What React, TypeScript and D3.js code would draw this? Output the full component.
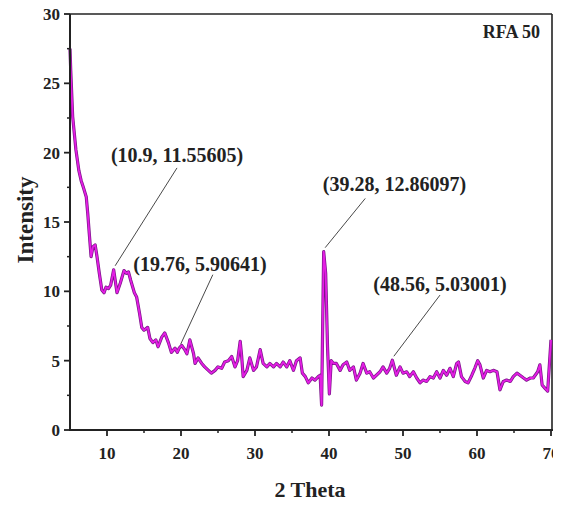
import React, { useEffect, useRef } from "react";
import * as d3 from "d3";

const twoTheta = [
  5.0, 5.05, 5.1, 5.36, 5.8, 6.2, 6.5, 6.8, 7.2, 7.4, 7.6, 7.85, 8.1, 8.4, 8.65, 8.96, 9.3, 9.6, 9.86, 10.2,
  10.5, 10.9, 11.35, 11.8, 12.3, 12.6, 12.9, 13.2, 13.7, 14.0, 14.4, 14.7, 15.0, 15.5, 15.8, 16.2, 16.6, 16.9,
  17.4, 17.8, 18.3, 18.7, 19.2, 19.5, 19.76, 20.1, 20.5, 20.8, 21.2, 21.7, 21.9, 22.3, 22.8, 23.2, 23.7, 24.1,
  24.6, 25.0, 25.5, 25.9, 26.4, 26.85, 27.3, 27.65, 28.0, 28.2, 28.4, 28.9, 29.3, 29.8, 30.2, 30.7, 31.1, 31.6,
  32.0, 32.5, 32.9, 33.4, 33.8, 34.3, 34.7, 35.2, 35.6, 36.1, 36.4, 36.8, 37.2, 37.7, 38.1, 38.55, 38.8, 39.0,
  39.28, 39.55, 39.8, 40.05, 40.3, 40.6, 41.0, 41.5, 41.9, 42.4, 42.8, 43.3, 43.7, 44.2, 44.6, 45.1, 45.5, 46.0,
  46.4, 46.9, 47.3, 47.8, 48.2, 48.56, 49.1, 49.6, 50.0, 50.5, 50.9, 51.4, 51.85, 52.3, 52.7, 53.2, 53.65, 54.1,
  54.55, 55.0, 55.45, 55.9, 56.35, 56.8, 57.25, 57.5, 57.9, 58.4, 58.8, 59.3, 59.7, 60.1, 60.4, 60.85, 61.3,
  61.75, 62.2, 62.7, 63.1, 63.55, 64.0, 64.5, 64.9, 65.4, 65.8, 66.3, 66.7, 67.2, 67.6, 68.2, 68.5, 68.8, 69.2,
  69.55, 70.0,
];
const intensity = [
  27.5, 26.7, 25.9, 22.6, 20.2, 18.7, 18.0, 17.5, 16.8, 15.6, 14.2, 12.5, 13.2, 13.35, 12.5, 11.3, 10.1, 9.9, 10.3, 10.2,
  10.45, 11.556, 9.9, 10.6, 11.5, 11.3, 11.4, 10.8, 9.9, 9.6, 8.4, 7.4, 7.2, 7.4, 6.6, 6.3, 6.5, 6.0,
  6.7, 7.0, 6.3, 5.6, 5.9, 5.6, 5.906, 6.1, 5.8, 5.5, 6.5, 5.5, 4.8, 5.2, 4.8, 4.55, 4.3, 4.1,
  4.3, 4.55, 4.45, 4.9, 5.0, 5.3, 4.55, 5.0, 6.4, 5.3, 3.85, 4.3, 5.2, 4.3, 4.55, 5.8, 4.8, 4.55,
  4.8, 4.55, 4.8, 4.55, 4.9, 4.55, 5.0, 4.3, 5.0, 5.2, 4.1, 3.85, 3.4, 3.75, 3.6, 3.85, 3.95, 1.8,
  12.861, 11.3, 6.0, 2.6, 5.0, 4.8, 4.8, 4.3, 4.7, 4.9, 4.3, 4.55, 3.6, 4.1, 4.8, 4.1, 4.2, 3.75,
  3.95, 4.2, 4.55, 4.1, 4.45, 5.03, 3.95, 4.55, 4.1, 4.2, 3.85, 4.2, 3.75, 3.4, 3.6, 3.5, 3.85, 3.75,
  4.2, 3.75, 4.3, 3.95, 4.45, 3.85, 4.8, 4.9, 3.85, 3.5, 3.4, 3.95, 4.45, 5.0, 4.7, 3.75, 4.3,
  4.2, 4.3, 4.2, 2.9, 3.5, 3.6, 3.5, 3.85, 4.1, 3.95, 3.75, 3.6, 3.75, 3.75, 4.2, 4.7, 3.25, 3.0,
  2.8, 6.5,
];

const xTicks = [10, 20, 30, 40, 50, 60, 70];
const xMinorTicks = [15, 25, 35, 45, 55, 65];
const yTicks = [0, 5, 10, 15, 20, 25, 30];
const yMinorTicks = [2.5, 7.5, 12.5, 17.5, 22.5, 27.5];

const annotationLabels = ["(10.9, 11.55605)", "(19.76, 5.90641)", "(39.28, 12.86097)", "(48.56, 5.03001)"];
const annotationX = [10.9, 19.76, 39.28, 48.56];
const annotationY = [11.55605, 5.90641, 12.86097, 5.03001];
const annotationTextX = [19.46, 22.57, 48.85, 55.0];
const annotationTextY = [19.3, 11.5, 17.2, 10.0];
const annotationLineEndX = [19.46, 24.3, 44.9, 55.0];
const annotationLineEndY = [18.9, 11.2, 16.7, 9.73];

const W = 568;
const H = 505;
const left = 70;
const right = 551;
const top = 14;
const bottom = 430;

export default function App() {
  const ref = useRef<SVGSVGElement | null>(null);

  useEffect(() => {
    const svg = d3.select(ref.current);
    svg.selectAll("*").remove();

    const x = d3.scaleLinear().domain([5, 70]).range([left, right]);
    const y = d3.scaleLinear().domain([0, 30]).range([bottom, top]);
    const font = "'Liberation Serif', 'Times New Roman', serif";

    svg.append("defs").append("clipPath").attr("id", "imgclip")
      .append("rect").attr("x", 0).attr("y", 0).attr("width", 553).attr("height", H);

    const g = svg.append("g").attr("clip-path", "url(#imgclip)");

    // frame
    g.append("line").attr("x1", left).attr("x2", right + 1).attr("y1", top).attr("y2", top)
      .attr("stroke", "#222").attr("stroke-width", 1.6);
    g.append("line").attr("x1", right + 1).attr("x2", right + 1).attr("y1", top).attr("y2", bottom)
      .attr("stroke", "#222").attr("stroke-width", 1.6);

    // data line
    const pts: [number, number][] = twoTheta.map((t, i) => [t, intensity[i]]);
    const line = d3.line<[number, number]>().x((d) => x(d[0])).y((d) => y(d[1]));
    g.append("path").datum(pts).attr("d", line).attr("fill", "none")
      .attr("stroke", "#7a1488").attr("stroke-width", 3.2).attr("stroke-linejoin", "round");
    g.append("path").datum(pts).attr("d", line).attr("fill", "none")
      .attr("stroke", "#e41ee4").attr("stroke-width", 1.8).attr("stroke-linejoin", "round");

    // axes
    g.append("line").attr("x1", left).attr("x2", left).attr("y1", top).attr("y2", bottom + 1)
      .attr("stroke", "#222").attr("stroke-width", 2);
    g.append("line").attr("x1", left - 1).attr("x2", right + 2).attr("y1", bottom).attr("y2", bottom)
      .attr("stroke", "#222").attr("stroke-width", 2);

    yTicks.forEach((v) => {
      g.append("line").attr("x1", left - 6).attr("x2", left).attr("y1", y(v)).attr("y2", y(v))
        .attr("stroke", "#222").attr("stroke-width", 1.8);
      g.append("text").attr("x", left - 10).attr("y", y(v)).attr("dy", "0.35em")
        .attr("text-anchor", "end").attr("font-family", font).attr("font-weight", "bold")
        .attr("font-size", 17).attr("fill", "#222").text(String(v));
    });
    yMinorTicks.forEach((v) => {
      g.append("line").attr("x1", left - 3).attr("x2", left).attr("y1", y(v)).attr("y2", y(v))
        .attr("stroke", "#222").attr("stroke-width", 1.5);
    });
    xTicks.forEach((v) => {
      g.append("line").attr("x1", x(v)).attr("x2", x(v)).attr("y1", bottom).attr("y2", bottom + 6)
        .attr("stroke", "#222").attr("stroke-width", 1.8);
      g.append("text").attr("x", x(v)).attr("y", bottom + 29)
        .attr("text-anchor", "middle").attr("font-family", font).attr("font-weight", "bold")
        .attr("font-size", 17).attr("fill", "#222").text(String(v));
    });
    xMinorTicks.forEach((v) => {
      g.append("line").attr("x1", x(v)).attr("x2", x(v)).attr("y1", bottom).attr("y2", bottom + 3)
        .attr("stroke", "#222").attr("stroke-width", 1.5);
    });

    // axis titles
    g.append("text").attr("x", 310).attr("y", 497)
      .attr("text-anchor", "middle").attr("font-family", font).attr("font-weight", "bold")
      .attr("font-size", 22).attr("fill", "#222").text("2 Theta");
    g.append("text").attr("transform", `translate(33, 220) rotate(-90)`)
      .attr("text-anchor", "middle").attr("font-family", font).attr("font-weight", "bold")
      .attr("font-size", 23).attr("fill", "#222").text("Intensity");

    // annotations
    annotationLabels.forEach((lab, i) => {
      g.append("line")
        .attr("x1", x(annotationX[i]) + 1.5).attr("y1", y(annotationY[i]) - 4)
        .attr("x2", x(annotationLineEndX[i])).attr("y2", y(annotationLineEndY[i]))
        .attr("stroke", "#333").attr("stroke-width", 0.9);
      g.append("text").attr("x", x(annotationTextX[i])).attr("y", y(annotationTextY[i]))
        .attr("text-anchor", "middle").attr("font-family", font).attr("font-weight", "bold")
        .attr("font-size", 20).attr("fill", "#222").text(lab);
    });

    g.append("text").attr("x", 540).attr("y", 38).attr("text-anchor", "end")
      .attr("font-family", font).attr("font-weight", "bold").attr("font-size", 18)
      .attr("fill", "#222").text("RFA 50");
  }, []);

  return (
    <svg ref={ref} width={W} height={H}
      style={{ position: "absolute", left: 0, top: 0, background: "#fff" }} />
  );
}
